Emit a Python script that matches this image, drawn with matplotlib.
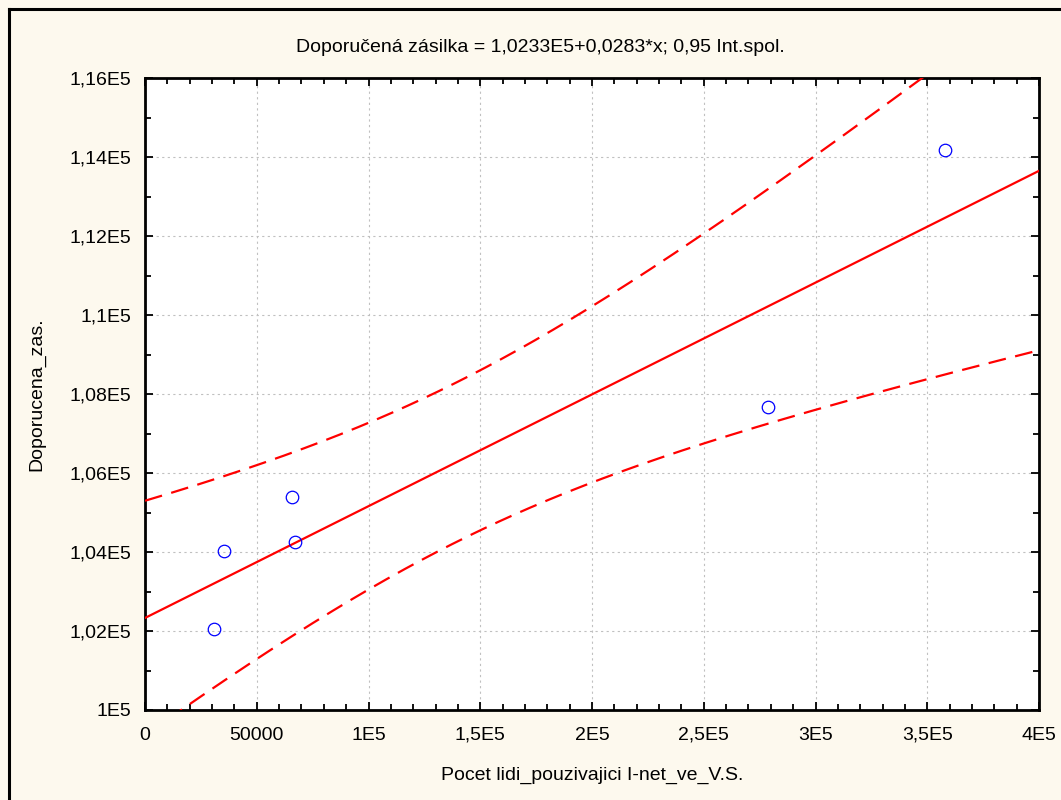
import matplotlib.pyplot as plt
import numpy as np
from matplotlib.lines import Line2D
from matplotlib.ticker import MultipleLocator, FixedLocator

# Observed values
users = [30900, 35300, 65800, 67100, 278700, 357900]
recommended = [102050, 104020, 105390, 104250, 107670, 114180]

# Regression from the title: y = 1,0233E5 + 0,0283*x
intercept = 1.0233e5
slope = 0.0283
t_crit = 2.776  # t(0.975, n-2) for n = 6

x_ticks = [0, 50000, 100000, 150000, 200000, 250000, 300000, 350000, 400000]
x_tick_labels = ['0', '50000', '1E5', '1,5E5', '2E5', '2,5E5', '3E5', '3,5E5', '4E5']
y_ticks = [100000, 102000, 104000, 106000, 108000, 110000, 112000, 114000, 116000]
y_tick_labels = ['1E5', '1,02E5', '1,04E5', '1,06E5', '1,08E5', '1,1E5',
                 '1,12E5', '1,14E5', '1,16E5']

plt.rcParams['font.family'] = ['Liberation Sans', 'DejaVu Sans']

bg = '#fdf9ee'
fig = plt.figure(figsize=(10.61, 8.0), dpi=100, facecolor=bg)
ax = fig.add_axes([145 / 1061, 90 / 800, 894 / 1061, 632 / 800])
ax.set_facecolor('white')

# fitted line and 95% confidence band for the mean
xs = np.array(users, dtype=float)
ys = np.array(recommended, dtype=float)
n = len(xs)
resid = ys - (intercept + slope * xs)
s = np.sqrt(np.sum(resid ** 2) / (n - 2))
sxx = np.sum((xs - xs.mean()) ** 2)

xg = np.linspace(0, 400000, 400)
yg = intercept + slope * xg
half = t_crit * s * np.sqrt(1.0 / n + (xg - xs.mean()) ** 2 / sxx)

ax.plot(xg, yg, color='#ff0000', lw=1.6, zorder=3)
ax.plot(xg, yg + half, color='#ff0000', lw=1.6, dashes=(8, 4.3), zorder=3)
ax.plot(xg, yg - half, color='#ff0000', lw=1.6, dashes=(8, 4.3), zorder=3)

ax.plot(users, recommended, 'o', mfc='none', mec='#0000ff', ms=9, mew=0.9,
        zorder=4)

ax.set_xlim(0, 400000)
ax.set_ylim(100000, 116000)
ax.xaxis.set_major_locator(FixedLocator(x_ticks))
ax.yaxis.set_major_locator(FixedLocator(y_ticks))
ax.set_xticklabels(x_tick_labels)
ax.set_yticklabels(y_tick_labels)
ax.xaxis.set_minor_locator(MultipleLocator(10000))
ax.yaxis.set_minor_locator(MultipleLocator(1000))

ax.tick_params(which='both', direction='in', top=True, right=True,
               labelsize=14, width=1.3, colors='black')
ax.tick_params(which='major', length=6, pad=10)
ax.tick_params(which='minor', length=4)
ax.tick_params(axis='x', pad=12)

ax.grid(True, which='major', color='#c0c0c0', linestyle=(0, (2, 3)), lw=0.8)
ax.set_axisbelow(True)
for sp in ax.spines.values():
    sp.set_linewidth(2)
    sp.set_color('black')

ax.set_xlabel('Pocet lidi_pouzivajici I-net_ve_V.S.', fontsize=14)
ax.set_ylabel('Doporucena_zas.', fontsize=14)
ax.xaxis.set_label_coords(0.5, (710 - 775) / 632)
ax.xaxis.label.set_va('center')
ax.yaxis.set_label_coords((37 - 145) / 894, 0.5)
ax.yaxis.label.set_va('center')
fig.text(540 / 1061, 1 - 47 / 800,
         'Doporučená zásilka = 1,0233E5+0,0283*x; 0,95 Int.spol.',
         ha='center', va='center', fontsize=14)

# outer frame of the graph window
fig.add_artist(Line2D([8.5 / 1061, 8.5 / 1061], [0, 1 - 8.5 / 800],
                      transform=fig.transFigure, color='black', lw=2.2))
fig.add_artist(Line2D([8.5 / 1061, 1], [1 - 8.5 / 800, 1 - 8.5 / 800],
                      transform=fig.transFigure, color='black', lw=2.2))

fig.savefig('out.png', dpi=100, facecolor=bg)
